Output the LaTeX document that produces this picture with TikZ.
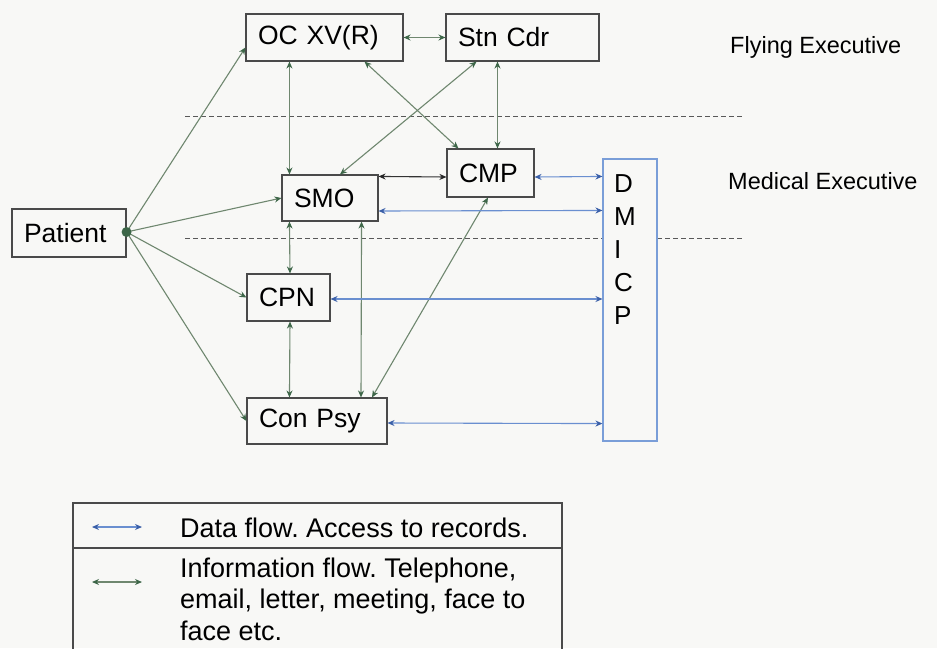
\documentclass[tikz,border=0pt]{standalone}
\usepackage{fontspec}
\setmainfont{Liberation Sans}
\usetikzlibrary{arrows.meta}
\frenchspacing

\definecolor{paper}{HTML}{F8F8F6}
\definecolor{boxline}{HTML}{4A4A4A}
\definecolor{infoline}{HTML}{6F876F}
\definecolor{infotip}{HTML}{3D6648}
\definecolor{dataline}{HTML}{6A8FD0}
\definecolor{datatip}{HTML}{3A5FA8}
\definecolor{dmicpline}{HTML}{7A9ED8}

\tikzset{
  itip/.tip={Stealth[length=7pt,width=6pt,color=infotip]},
  dtip/.tip={Stealth[length=7pt,width=6pt,color=datatip]},
  ktip/.tip={Stealth[length=7pt,width=6pt,color=black!85]},
  unit/.style n args={2}{draw=boxline, line width=1.1pt, inner xsep=12pt, inner ysep=0pt,
    text width=#1-24pt, align=left, minimum height=#2, anchor=center,
    font=\fontsize{26.5}{31}\selectfont},
  info/.style={draw=infoline, line width=1.1pt, itip-itip},
  infoto/.style={draw=infoline, line width=1.1pt, -itip},
  direct/.style={draw=black!80, line width=1.1pt, ktip-ktip},
  data/.style={draw=dataline, line width=1.1pt, dtip-dtip},
  tier/.style={draw=black!65, line width=0.9pt, dash pattern=on 5pt off 3pt},
  tiername/.style={anchor=west, inner sep=0pt, font=\fontsize{23.5}{28}\selectfont},
  keytext/.style={anchor=base west, inner sep=0pt, font=\fontsize{27}{31.5}\selectfont},
}

\begin{document}
\begin{tikzpicture}[x=1pt, y=-1pt]
  \useasboundingbox[fill=paper] (0,0) rectangle (937,648);

  % tier separators
  \draw[tier] (185,116) -- (743,116);
  \draw[tier] (185,238) -- (743,238);

  % tier names
  \node[tiername] (flying) at (730,47) {Flying Executive};
  \node[tiername] (medical) at (728,181) {Medical Executive};

  % units
  \node[unit={157pt}{47pt}] (oc) at (324.5,37.5) {OC XV(R)};
  \node[unit={153pt}{47pt}] (stn) at (522.5,37.5) {Stn Cdr};
  \node[unit={96pt}{46pt}] (smo) at (330,198) {SMO};
  \node[unit={87pt}{48pt}] (cmp) at (490.5,173) {CMP};
  \node[unit={114pt}{48pt}] (patient) at (69,233) {Patient};
  \node[unit={83pt}{47pt}] (cpn) at (288.5,297.5) {CPN};
  \node[unit={140pt}{46pt}] (conpsy) at (317,421) {Con Psy};

  % records system
  \node[draw=dmicpline, fill=paper, line width=1.1pt, minimum width=54pt,
        minimum height=282pt, inner sep=0pt] (dmicp) at (630,300) {};
  \node[anchor=north west, inner sep=0pt, align=left,
        font=\fontsize{26}{33}\selectfont] (dmicptext) at (614,174) {D\\M\\I\\C\\P};

  % patient contacts
  \coordinate (pt) at ([yshift=1pt]patient.east);
  \draw[infoto] (pt) -- ([yshift=-10pt]oc.west);
  \draw[infoto] (pt) -- (smo.west);
  \draw[infoto] (pt) -- (cpn.west);
  \draw[infoto] (pt) -- (conpsy.west);
  \fill[infotip] (pt) circle (5pt);

  % information flow
  \draw[info] (oc.east) -- (stn.west);
  \draw[info] ([xshift=44pt]oc.south west) -- ([xshift=8pt]smo.north west);
  \draw[info] ([xshift=40pt]oc.south) -- ([xshift=12pt]cmp.north west);
  \draw[info] ([xshift=-46pt]stn.south) -- ([xshift=10pt]smo.north);
  \draw[info] ([xshift=-25pt]stn.south) -- ([xshift=7pt]cmp.north);
  \draw[direct] ([yshift=-2pt]smo.north east) -- ([yshift=-4pt]cmp.west);
  \draw[info] ([xshift=8pt]smo.south west) -- ([xshift=1.5pt]cpn.north);
  \draw[info] ([xshift=-17pt]smo.south east) -- ([xshift=44pt]conpsy.north);
  \draw[info] ([xshift=-2.5pt]cmp.south) -- ([xshift=55pt]conpsy.north);
  \draw[info] ([xshift=1.5pt]cpn.south) -- ([xshift=43pt]conpsy.north west);

  % data flow
  \draw[data] ([yshift=-4pt]cmp.east) -- ([yshift=-18pt]dmicp.north west);
  \draw[data] ([yshift=-13pt]smo.east) -- ([yshift=-52pt]dmicp.north west);
  \draw[data] ([yshift=-1.5pt]cpn.east) -- ([yshift=1pt]dmicp.west);
  \draw[data] ([yshift=-2pt]conpsy.east) -- ([yshift=18pt]dmicp.south west);

  % key
  \draw[draw=boxline, line width=1.1pt] (73,652) -- (73,503) -- (562,503) -- (562,652);
  \draw[draw=boxline, line width=1.1pt] (73,548) -- (562,548);
  \coordinate (dataA) at (92,527);
  \coordinate (dataB) at (142,527);
  \draw[data] (dataA) -- (dataB);
  \coordinate (infoA) at (92,582);
  \coordinate (infoB) at (142,582);
  \draw[info] (infoA) -- (infoB);
  \node[keytext] (keydata) at (180,537) {Data flow. Access to records.};
  \node[keytext] (keyinfo1) at (180,577) {Information flow. Telephone,};
  \node[keytext] (keyinfo2) at (180,608.5) {email, letter, meeting, face to};
  \node[keytext] (keyinfo3) at (180,640) {face etc.};
\end{tikzpicture}
\end{document}
